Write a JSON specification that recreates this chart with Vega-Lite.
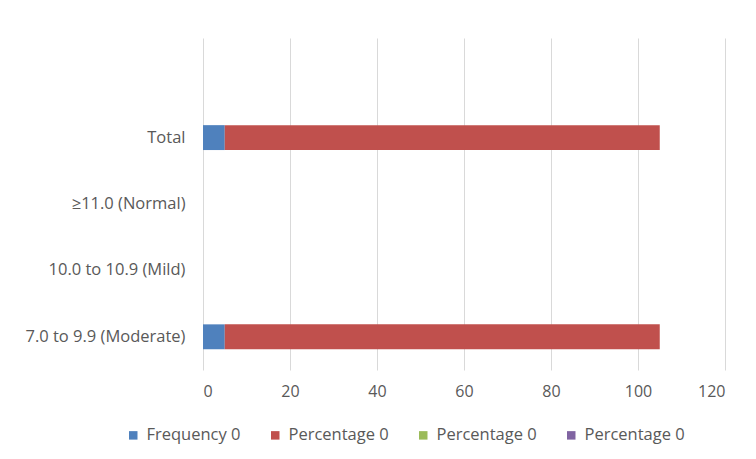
{
  "$schema": "https://vega.github.io/schema/vega-lite/v6.json",
  "width": 522,
  "height": 332,
  "autosize": {"type": "none"},
  "padding": {"left": 203, "top": 38, "right": 31, "bottom": 89},
  "background": "white",
  "config": {
    "view": {"stroke": null},
    "font": "Open Sans"
  },
  "data": {
    "values": [
      {"category": "Total", "series": "Frequency 0", "value": 5},
      {"category": "Total", "series": "Percentage 0", "value": 100},
      {"category": "7.0 to 9.9 (Moderate)", "series": "Frequency 0", "value": 5},
      {"category": "7.0 to 9.9 (Moderate)", "series": "Percentage 0", "value": 100}
    ]
  },
  "mark": {"type": "bar"},
  "encoding": {
    "y": {
      "field": "category",
      "type": "nominal",
      "title": null,
      "scale": {
        "domain": [" ", "Total", "≥11.0 (Normal)", "10.0 to 10.9 (Mild)", "7.0 to 9.9 (Moderate)"],
        "paddingInner": 0.625,
        "paddingOuter": 0.3125
      },
      "axis": {
        "domain": false,
        "ticks": false,
        "labelPadding": 18,
        "labelFontSize": 16.5,
        "labelColor": "#595959",
        "labelFont": "Open Sans"
      }
    },
    "x": {
      "field": "value",
      "type": "quantitative",
      "stack": "zero",
      "title": null,
      "scale": {"domain": [0, 120], "nice": false},
      "axis": {
        "values": [0, 20, 40, 60, 80, 100, 120],
        "domain": false,
        "ticks": false,
        "grid": true,
        "gridColor": "#D9D9D9",
        "gridWidth": 1,
        "labelPadding": 13,
        "labelFontSize": 16,
        "labelColor": "#595959",
        "labelFont": "Open Sans"
      }
    },
    "color": {
      "field": "series",
      "type": "nominal",
      "scale": {
        "domain": ["Frequency 0", "Percentage 0", "Percentage 0 #2", "Percentage 0 #3"],
        "range": ["#4F81BD", "#C0504D", "#9BBB59", "#8064A2"]
      },
      "legend": {
        "title": null,
        "orient": "none",
        "direction": "horizontal",
        "columns": 4,
        "legendX": -78,
        "legendY": 389,
        "symbolType": "square",
        "symbolSize": 72,
        "symbolStrokeWidth": 0,
        "labelFontSize": 16.5,
        "labelColor": "#595959",
        "labelFont": "Open Sans",
        "labelOffset": 5,
        "columnPadding": 26,
        "labelExpr": "split(datum.label, ' #')[0]"
      }
    },
    "order": {"field": "series", "type": "nominal"}
  }
}
